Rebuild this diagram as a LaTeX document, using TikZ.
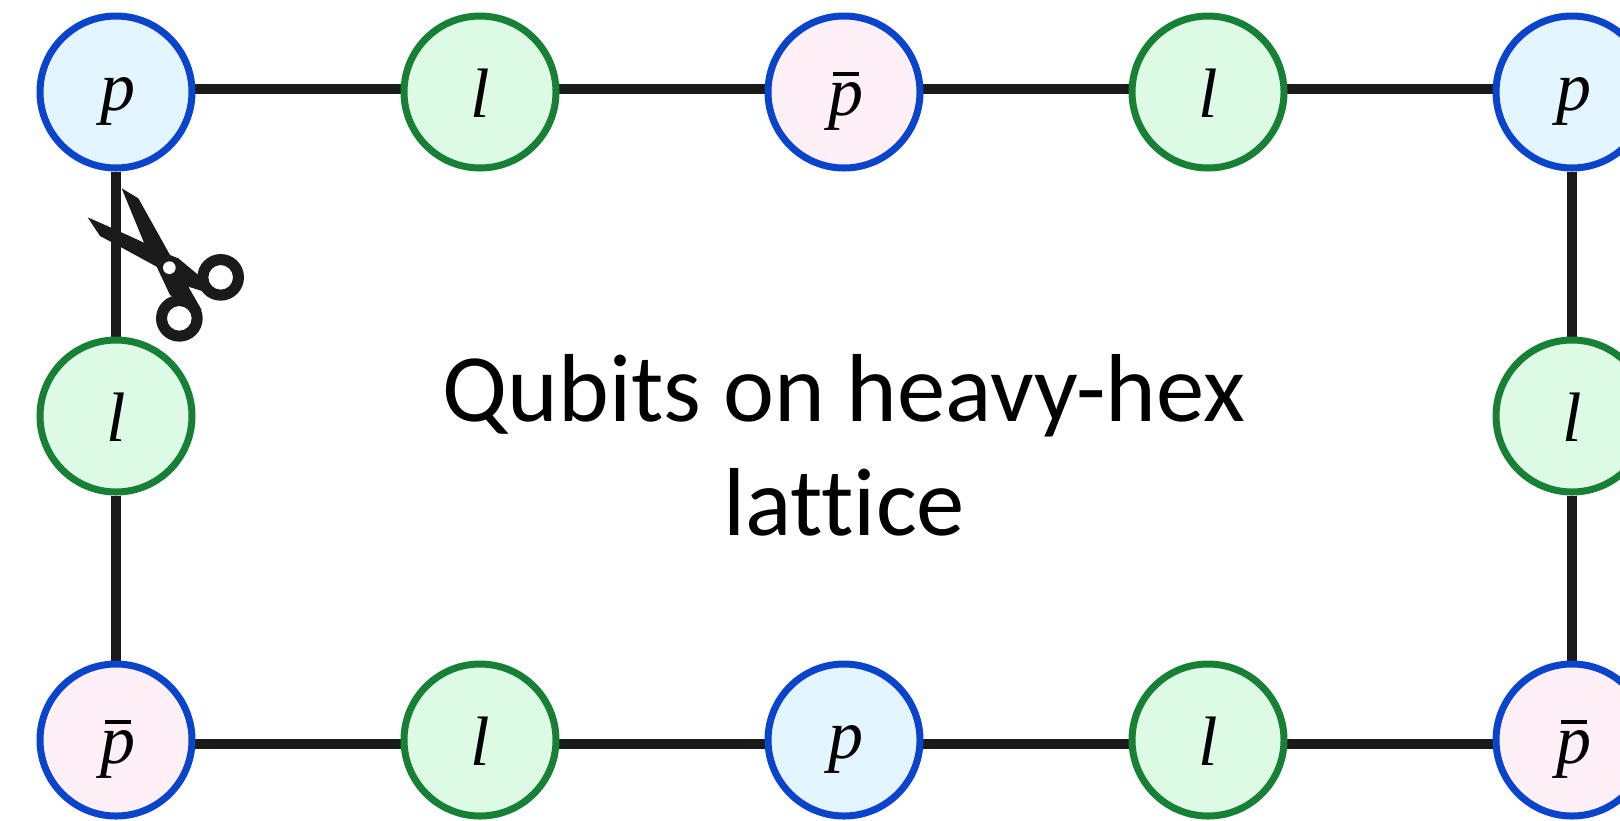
\documentclass[tikz,border=0pt]{standalone}
\usepackage{fontspec}
\setmainfont[Ligatures=NoCommon]{Carlito}
\newfontfamily\mathish{Liberation Serif}
\usetikzlibrary{backgrounds}
\definecolor{qblue}{HTML}{0A44CC}
\definecolor{qgreen}{HTML}{178035}
\definecolor{fblue}{HTML}{E3F5FF}
\definecolor{fgreen}{HTML}{DDFAE5}
\definecolor{fpink}{HTML}{FFF0F8}
\definecolor{qblack}{HTML}{1A1A1A}
\newcommand{\qp}{{\mathish\itshape\kern2pt\raisebox{-2pt}{p}}}
\newcommand{\ql}{{\mathish\itshape\raisebox{-1pt}{l}}}
\newcommand{\qbp}{{\mathish\itshape\kern2pt\raisebox{-2pt}{\rlap{\kern0.06em\raisebox{0.56em}{\rule{0.38em}{0.055em}}}p}}}
\tikzset{
  qubit/.style={circle,minimum size=152\pxu,inner sep=0pt,line width=7\pxu,font=\fontsize{35}{35}\selectfont,text depth=0pt},
  pnode/.style={qubit,draw=qblue,fill=fblue},
  bnode/.style={qubit,draw=qblue,fill=fpink},
  lnode/.style={qubit,draw=qgreen,fill=fgreen},
  wire/.style={draw=qblack,line width=9.5\pxu},
}
\newcommand{\pxu}{*0.5pt}
\begin{document}
\begin{tikzpicture}[x=0.5pt,y=-0.5pt]
\useasboundingbox (0,0) rectangle (1620,820);
\clip (0,0) rectangle (1620,820);
\node[pnode] (a1) at (116,92) {\qp};
\node[lnode] (a2) at (480,92) {\ql};
\node[bnode] (a3) at (844,92) {\qbp};
\node[lnode] (a4) at (1208,92) {\ql};
\node[pnode] (a5) at (1572,92) {\qp};
\node[lnode] (m1) at (116,416) {\ql};
\node[lnode] (m5) at (1572,416) {\ql};
\node[bnode] (c1) at (116,740) {\qbp};
\node[lnode] (c2) at (480,740) {\ql};
\node[pnode] (c3) at (844,740) {\qp};
\node[lnode] (c4) at (1208,740) {\ql};
\node[bnode] (c5) at (1572,740) {\qbp};
\begin{pgfonlayer}{background}
\foreach \u/\v in {a1/a2,a2/a3,a3/a4,a4/a5}
  \draw[wire] ([yshift=1.5pt]\u.center) -- ([yshift=1.5pt]\v.center);
\foreach \u/\v in {c1/c2,c2/c3,c3/c4,c4/c5}
  \draw[wire] ([yshift=-2pt]\u.center) -- ([yshift=-2pt]\v.center);
\foreach \u/\v in {a1/m1,m1/c1,a5/m5,m5/c5}
  \draw[wire] (\u) -- (\v);
\end{pgfonlayer}
\node[align=center,font=\fontsize{48.3}{57}\selectfont] (title) at (844,445) {Qubits on heavy-hex\\lattice};
% scissors, traced in zoom coordinates
\begin{scope}[shift={(20,0)},x=0.16667pt,y=-0.16667pt]
\fill[qblack] (305,565) -- (355,595) -- (450,765) -- (410,800) -- (372,728) -- cycle;
\fill[qblack] (203,652) -- (278,685) -- (372,728) -- (450,765) -- (410,800) -- (300,740) -- (240,708) -- cycle;
\fill[qblack] (410,800) -- (450,765) -- (475,775) -- (535,825) -- (600,890) -- (505,860) -- (545,930) -- (450,885) -- cycle;
\fill[qblack,even odd rule] (478,955) circle[radius=70] (478,955) circle[radius=37];
\fill[qblack,even odd rule] (602,832) circle[radius=70] (602,832) circle[radius=37];
\fill[white] (448,803) circle[radius=19];
\end{scope}
\end{tikzpicture}
\end{document}
